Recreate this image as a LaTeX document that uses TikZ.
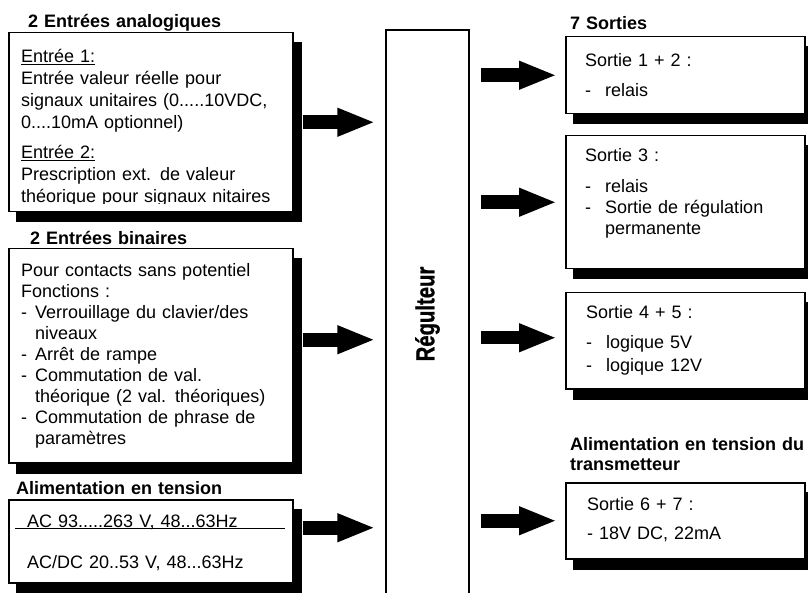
\documentclass[tikz,border=0pt]{standalone}
\usepackage{fontspec}
\setmainfont{Liberation Sans}
\newfontfamily\regfont{Liberation Sans Bold}[FakeBold=1]
\usepackage{tikz}
\usetikzlibrary{arrows.meta, backgrounds}
\tikzstyle{panel} = [rectangle, anchor=north west, inner sep=0pt, draw=black, line width=1.5pt, fill=white]
\tikzstyle{core} = [rectangle, inner sep=0pt, draw=black, line width=1.3pt, font=\fontsize{26}{28}\regfont]
\tikzstyle{heading} = [anchor=base west, inner sep=0pt, text width=250pt, align=left, font=\fontsize{18}{20}\selectfont\bfseries]
\tikzstyle{body} = [anchor=base west, inner sep=0pt, text width=270pt, align=left, font=\fontsize{18}{21}\selectfont]
\tikzstyle{bigarrow} = [line width=13.5pt, -{Triangle[length=38pt,width=26pt]}]
\newcommand{\tiret}[1][14pt]{\makebox[#1][l]{-}}

\begin{document}
\begin{tikzpicture}[x=1pt, y=-1pt]
\useasboundingbox (0,0) rectangle (808,593);
\node(reg) [core, minimum width=83pt, minimum height=568pt] at (427.5,314) {\rotatebox{90}{\scalebox{0.78}[1]{Régulteur}}};
%----------------------------------------------------%
\node(ana) [panel, minimum width=284pt, minimum height=179pt] at (8,32) {};
\node(ana-h) [heading] at ([shift={(20,-4)}]ana.north west) {2 Entrées analogiques};
\begin{scope}
\clip (ana.north west) rectangle ([shift={(0,-9)}]ana.south east);
\node(ana-t) [body, font=\fontsize{18}{22}\selectfont] at ([shift={(13,31)}]ana.north west) {\underline{Entrée 1:}\\ Entrée valeur réelle pour\\ signaux unitaires (0.....10VDC,\\ 0....10mA optionnel)\\[8pt] \underline{Entrée 2:}\\ Prescription ext. de valeur\\ théorique pour signaux nitaires};
\end{scope}

\node(bin) [panel, minimum width=284pt, minimum height=214pt] at (8,248) {};
\node(bin-h) [heading] at ([shift={(22,-3)}]bin.north west) {2 Entrées binaires};
\node(bin-t) [body] at ([shift={(13,29)}]bin.north west) {Pour contacts sans potentiel\\ Fonctions :\\ \tiret Verrouillage du clavier/des\\ \hspace*{14pt}niveaux\\ \tiret Arrêt de rampe\\ \tiret Commutation de val.\\ \hspace*{14pt}théorique (2 val. théoriques)\\ \tiret Commutation de phrase de\\ \hspace*{14pt}paramètres};

\node(ali) [panel, minimum width=284pt, minimum height=83pt] at (8,499) {};
\node(ali-h) [heading] at ([shift={(8,-5)}]ali.north west) {Alimentation en tension};
\node(ali-t) [body] at ([shift={(19,28.5)}]ali.north west) {AC 93.....263 V, 48...63Hz\\[20pt] AC/DC 20..53 V, 48...63Hz};
\draw[line width=1.5pt] ([shift={(7,29.5)}]ali.north west) -- ([shift={(-9,29.5)}]ali.north east);

\draw[bigarrow, shorten <=9pt, shorten >=10pt] (ana.east) -- (ana.east -| reg.west);
\draw[bigarrow, shorten <=9pt, shorten >=10pt] ([yshift=16pt]bin.east) -- ([yshift=16pt]bin.east -| reg.west);
\draw[bigarrow, shorten <=9pt, shorten >=10pt] ([yshift=13.5pt]ali.east) -- ([yshift=13.5pt]ali.east -| reg.west);
%----------------------------------------------------%
\node(s12) [panel, minimum width=239pt, minimum height=77pt] at (565,36) {};
\node(s12-h) [heading] at ([shift={(5,-6)}]s12.north west) {7 Sorties};
\node(s12-t) [body] at ([shift={(20,31)}]s12.north west) {Sortie 1 + 2 :\\[9pt] \tiret[20pt]relais};

\node(s3) [panel, minimum width=239pt, minimum height=133pt] at (565,135) {};
\node(s3-t) [body] at ([shift={(20,27)}]s3.north west) {Sortie 3 :\\[10pt] \tiret[20pt]relais\\ \tiret[20pt]Sortie de régulation\\ \hspace*{20pt}permanente};

\node(s45) [panel, minimum width=239pt, minimum height=96pt] at (565,292) {};
\node(s45-t) [body] at ([shift={(21,27)}]s45.north west) {Sortie 4 + 5 :\\[9pt] \tiret[20pt]logique 5V\\[2pt] \tiret[20pt]logique 12V};

\node(s67) [panel, minimum width=239pt, minimum height=76pt] at (565,482) {};
\node(s67-h) [heading] at ([shift={(5,-32)}]s67.north west) {Alimentation en tension du\\ transmetteur};
\node(s67-t) [body] at ([shift={(22,28)}]s67.north west) {Sortie 6 + 7 :\\[8pt] - 18V DC, 22mA};

\draw[bigarrow, shorten <=11pt, shorten >=8pt] (s12.west -| reg.east) -- (s12.west);
\draw[bigarrow, shorten <=11pt, shorten >=8pt] (s3.west -| reg.east) -- (s3.west);
\draw[bigarrow, shorten <=11pt, shorten >=8pt] ([yshift=3pt]s45.west -| reg.east) -- ([yshift=3pt]s45.west);
\draw[bigarrow, shorten <=11pt, shorten >=8pt] (s67.west -| reg.east) -- (s67.west);
%----------------------------------------------------%
% shadows
\begin{scope}[on background layer]
\foreach \p in {ana,bin,ali,s12,s3,s45,s67}
  \fill ([shift={(8,10)}]\p.north west) rectangle ([shift={(8,10)}]\p.south east);
\end{scope}
\end{tikzpicture}
\end{document}
